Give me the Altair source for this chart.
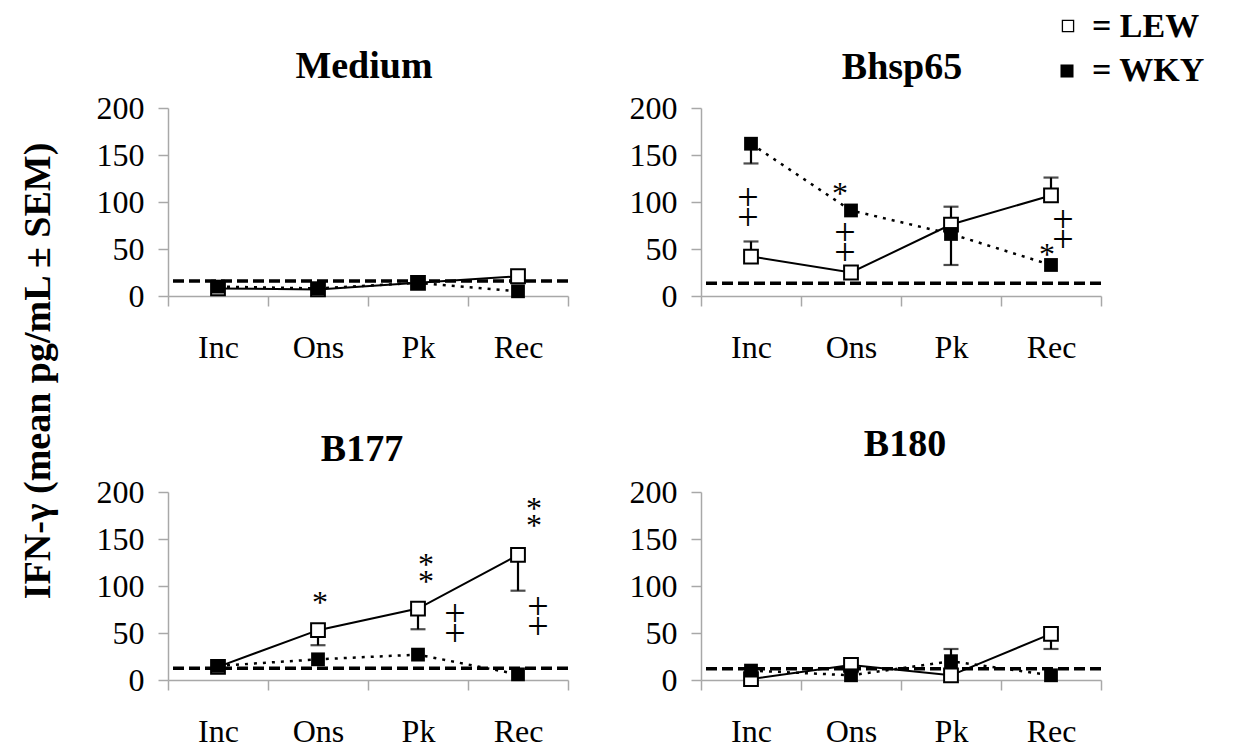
import altair as alt
import pandas as pd

# ---------------- data ----------------
CATS = ["Inc", "Ons", "Pk", "Rec"]
PANELS = ["Medium", "Bhsp65", "B177", "B180"]

LEW_MEDIUM = [8, 7, 14, 21]
WKY_MEDIUM = [10, 8, 14, 5]
LEW_BHSP65 = [42, 25, 76, 107]
WKY_BHSP65 = [162, 91, 66, 33]
LEW_B177 = [14, 53, 76, 133]
WKY_B177 = [15, 22, 27, 6]
LEW_B180 = [1, 16, 5, 49]
WKY_B180 = [10, 5, 20, 5]

# end points of the (one-sided) SEM bars, None = no visible bar
LEW_BAR_MEDIUM = [None, None, None, None]
WKY_BAR_MEDIUM = [None, None, None, None]
LEW_BAR_BHSP65 = [58, None, 95, 126]
WKY_BAR_BHSP65 = [141, None, 33, None]
LEW_BAR_B177 = [None, 37, 54, 95]
WKY_BAR_B177 = [None, None, None, None]
LEW_BAR_B180 = [None, None, None, 33]
WKY_BAR_B180 = [None, None, 33, None]

# background (medium) level shown as dashed line
BASELINES = [16, 13.5, 12.5, 12]

# significance annotations
ANN_PANEL = ["Bhsp65", "Bhsp65", "Bhsp65", "Bhsp65", "Bhsp65",
             "B177", "B177", "B177", "B177", "B177"]
ANN_CAT = ["Inc", "Ons", "Ons", "Rec", "Rec",
           "Ons", "Pk", "Rec", "Pk", "Rec"]
ANN_VALUE = [92, 114, 54, 68, 49,
             87, 115.5, 175.5, 57, 65]
ANN_TEXT = ["‡", "*", "‡", "‡", "*",
            "*", "**", "**", "‡", "‡"]
ANN_DX = [-3, -11, -6, 12, -4,
          2, 8, 16, 37, 20]

SERIES = {
    "Medium": (LEW_MEDIUM, WKY_MEDIUM, LEW_BAR_MEDIUM, WKY_BAR_MEDIUM),
    "Bhsp65": (LEW_BHSP65, WKY_BHSP65, LEW_BAR_BHSP65, WKY_BAR_BHSP65),
    "B177": (LEW_B177, WKY_B177, LEW_BAR_B177, WKY_BAR_B177),
    "B180": (LEW_B180, WKY_B180, LEW_BAR_B180, WKY_BAR_B180),
}

# ---------------- style ----------------
FONT = "Liberation Serif"
GRAY = "#a8a8a8"
W, H = 400, 188
TITLE_DX = [-4, 1, -6, 4]
TITLE_Y = [-30, -29, -31, -36]

# how each symbol is drawn: (lines, font size, line height, dy)
SYMBOL_STYLE = {
    "‡": (["+", "+"], 38, 20, -11),
    "*": (["*"], 32, 16, 5),
    "**": (["*", "*"], 32, 17, -6),
}


def x_enc():
    return alt.X(
        "cat:N", sort=CATS,
        scale=alt.Scale(type="band", domain=CATS, paddingInner=0, paddingOuter=0),
        axis=alt.Axis(title=None, labelAngle=0, tickBand="extent", grid=False,
                      labelFont=FONT, labelFontSize=32, labelColor="black",
                      tickSize=10, labelPadding=26, domainColor=GRAY, tickColor=GRAY,
                      domainWidth=1.5, tickWidth=1.5),
    )


def y_enc(field):
    return alt.Y(
        field + ":Q",
        scale=alt.Scale(domain=[0, 200], nice=False),
        axis=alt.Axis(title=None, values=[0, 50, 100, 150, 200], grid=False,
                      labelFont=FONT, labelFontSize=32, labelColor="black",
                      tickSize=10, labelPadding=14, domainColor=GRAY, tickColor=GRAY,
                      domainWidth=1.5, tickWidth=1.5),
    )


def make_panel(i, name):
    lew, wky, lew_bar, wky_bar = SERIES[name]
    rows = []
    for c, v, e in zip(CATS, lew, lew_bar):
        rows.append({"cat": c, "grp": "LEW", "value": v, "end": e})
    for c, v, e in zip(CATS, wky, wky_bar):
        rows.append({"cat": c, "grp": "WKY", "value": v, "end": e})
    df = pd.DataFrame(rows)
    base = alt.Chart(df)

    baseline = alt.Chart(pd.DataFrame({"value": [BASELINES[i]]})).mark_rule(
        color="black", strokeWidth=3.5, strokeDash=[11, 5]
    ).encode(y=y_enc("value"))

    lew_line = base.transform_filter(alt.datum.grp == "LEW").mark_line(
        color="black", strokeWidth=2
    ).encode(x=x_enc(), y=y_enc("value"))
    wky_line = base.transform_filter(alt.datum.grp == "WKY").mark_line(
        color="black", strokeWidth=2.5, strokeDash=[3, 6]
    ).encode(x=x_enc(), y=y_enc("value"))

    bars = base.transform_filter("isValid(datum.end)")
    err_rule = bars.mark_rule(color="black", strokeWidth=2.2).encode(
        x=x_enc(), y=y_enc("value"), y2="end:Q")
    err_cap = bars.mark_tick(color="black", thickness=2.2, size=15).encode(
        x=x_enc(), y=y_enc("end"))

    lew_pts = base.transform_filter(alt.datum.grp == "LEW").mark_point(
        shape="square", size=190, filled=True, fill="white", stroke="black",
        strokeWidth=2, opacity=1
    ).encode(x=x_enc(), y=y_enc("value"))
    wky_pts = base.transform_filter(alt.datum.grp == "WKY").mark_point(
        shape="square", size=190, filled=True, color="black", opacity=1
    ).encode(x=x_enc(), y=y_enc("value"))

    layers = [baseline, lew_line, wky_line, err_rule, err_cap, lew_pts, wky_pts]

    for p, c, v, t, dx in zip(ANN_PANEL, ANN_CAT, ANN_VALUE, ANN_TEXT, ANN_DX):
        if p != name:
            continue
        lines, fs, lh, dy = SYMBOL_STYLE[t]
        layers.append(
            alt.Chart(pd.DataFrame({"cat": [c], "value": [v]})).mark_text(
                text=lines, dx=dx, dy=dy, font=FONT, fontSize=fs, lineHeight=lh,
                color="black", baseline="middle", align="center",
            ).encode(x=x_enc(), y=y_enc("value"))
        )

    one = pd.DataFrame({"a": [0]})
    # panel title
    layers.append(alt.Chart(one).mark_text(
        text=name, font=FONT, fontSize=38, fontWeight="bold", color="black",
        align="center", baseline="alphabetic"
    ).encode(x=alt.value(W / 2 + TITLE_DX[i]), y=alt.value(TITLE_Y[i])))

    if name == "Medium":
        # invisible anchor fixing the page origin
        layers.append(alt.Chart(one).mark_rule(color="white", strokeWidth=1).encode(
            x=alt.value(-159), x2=alt.value(-159), y=alt.value(-99), y2=alt.value(-99)))
        layers.append(alt.Chart(one).mark_text(
            text="IFN-γ (mean pg/mL ± SEM)", angle=270, font=FONT, fontSize=38,
            fontWeight="bold", color="black", align="center", baseline="middle"
        ).encode(x=alt.value(-129), y=alt.value(263)))
    if name == "Bhsp65":
        layers.append(alt.Chart(one).mark_point(
            shape="square", size=125, filled=True, fill="white", stroke="black",
            strokeWidth=1.3, opacity=1).encode(x=alt.value(367), y=alt.value(-82)))
        layers.append(alt.Chart(one).mark_point(
            shape="square", size=170, filled=True, color="black", opacity=1
        ).encode(x=alt.value(366), y=alt.value(-37)))
        for lab, yy in [("= LEW", -81), ("= WKY", -37)]:
            layers.append(alt.Chart(one).mark_text(
                text=lab, font=FONT, fontSize=34, fontWeight="bold", color="black",
                align="left", baseline="middle"
            ).encode(x=alt.value(391), y=alt.value(yy)))

    return alt.layer(*layers).properties(width=W, height=H)


panels = [make_panel(i, n) for i, n in enumerate(PANELS)]

chart = alt.concat(
    *panels, columns=2, spacing={"row": 196, "column": 133}, bounds="flush"
).properties(
    padding=0, background="white"
).configure_view(stroke=None)

chart.save("out.html", embed_options={"renderer": "svg", "actions": False})
